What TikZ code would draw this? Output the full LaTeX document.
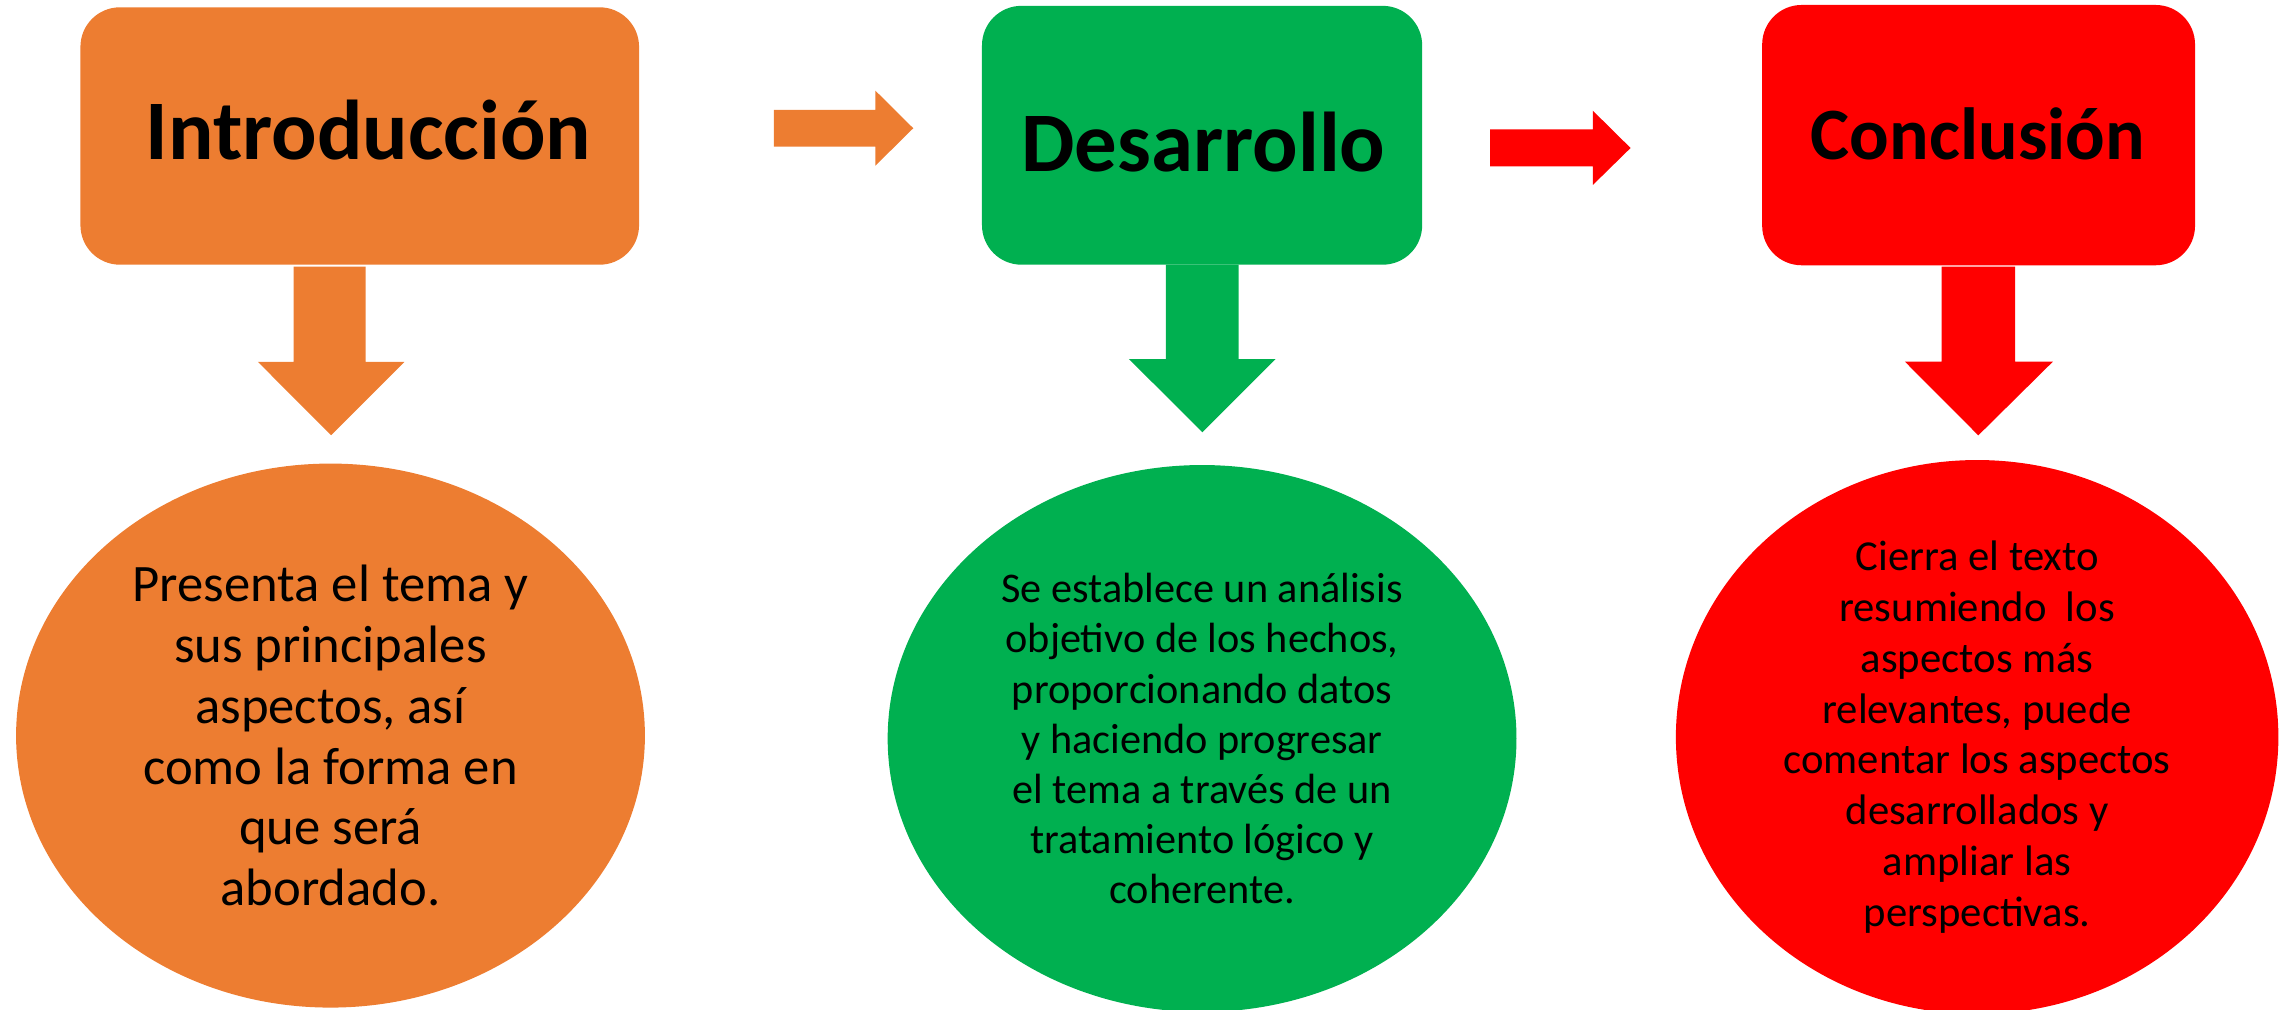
\documentclass[tikz,border=0pt]{standalone}
\usepackage{fontspec}
\setmainfont{Carlito}
\usetikzlibrary{shapes.geometric}
\definecolor{corange}{HTML}{ED7D31}
\definecolor{cgreen}{HTML}{00B050}
\definecolor{cred}{HTML}{FF0000}
\tikzset{
  titlebox/.style={rectangle, rounded corners=27pt, inner sep=0pt},
  titletext/.style={anchor=base, inner sep=0pt, font=\bfseries\fontsize{58}{64}\selectfont},
  blob/.style={ellipse, inner sep=0pt, align=center},
}
\begin{document}
\begin{tikzpicture}[x=1pt,y=-1pt]
\useasboundingbox (0,0) rectangle (1568,690);
\clip (0,0) rectangle (1568,690);
% boxes
\node[titlebox, fill=corange, minimum width=382pt, minimum height=176pt] (b1) at (246,93) {};
\node[titlebox, fill=cgreen, minimum width=301pt, minimum height=177pt] (b2) at (822,92.5) {};
\node[titlebox, fill=cred, minimum width=296pt, minimum height=178pt] (b3) at (1353,92.4) {};
% titles
\node[titletext] (t1) at (252,109) {Introducción};
\node[titletext] (t2) at (823,117.4) {Desarrollo};
\node[titletext, font=\bfseries\fontsize{50.5}{56}\selectfont] (t3) at (1352.5,109.4) {Conclusión};
% right arrows
\fill[corange] (529.2,75.2) -- (598.6,75.2) -- (598.6,62) -- (624.5,87.7) -- (598.6,113.3) -- (598.6,100.3) -- (529.2,100.3) -- cycle;
\fill[cred] (1019,88.4) -- (1089.2,88.4) -- (1089.2,75.7) -- (1115,101.2) -- (1089.2,126.5) -- (1089.2,113.7) -- (1019,113.7) -- cycle;
% down arrows
\fill[corange] (200.8,182.3) -- (250,182.3) -- (250,247.5) -- (276.6,247.5) -- (226.4,297.6) -- (176.4,247.5) -- (200.8,247.5) -- cycle;
\fill[cgreen] (797.3,181) -- (847,181) -- (847,245.5) -- (872.3,245.5) -- (822.2,295.6) -- (772,245.5) -- (797.3,245.5) -- cycle;
\fill[cred] (1327.7,182.4) -- (1377.9,182.4) -- (1377.9,247.3) -- (1403.8,247.3) -- (1352.8,297.7) -- (1302.6,247.3) -- (1327.7,247.3) -- cycle;
% ellipses
\node[blob, fill=corange, minimum width=430pt, minimum height=372pt, font=\fontsize{36}{41.6}\selectfont] (e1) at (226,503) {Presenta el tema y\\sus principales\\aspectos, así\\como la forma en\\que será\\abordado.};
\node[blob, fill=cgreen, minimum width=430pt, minimum height=374pt, font=\fontsize{28.9}{34.2}\selectfont] (e2) at (822,505) {Se establece un análisis\\objetivo de los hechos,\\proporcionando datos\\y haciendo progresar\\el tema a través de un\\tratamiento lógico y\\coherente.};
\node[blob, fill=cred, minimum width=412pt, minimum height=372pt, font=\fontsize{29.2}{34.7}\selectfont] (e3) at (1352,504) {Cierra el texto\\resumiendo\ \ los\\aspectos más\\relevantes, puede\\comentar los aspectos\\desarrollados y\\ampliar las\\perspectivas.};
\end{tikzpicture}
\end{document}
